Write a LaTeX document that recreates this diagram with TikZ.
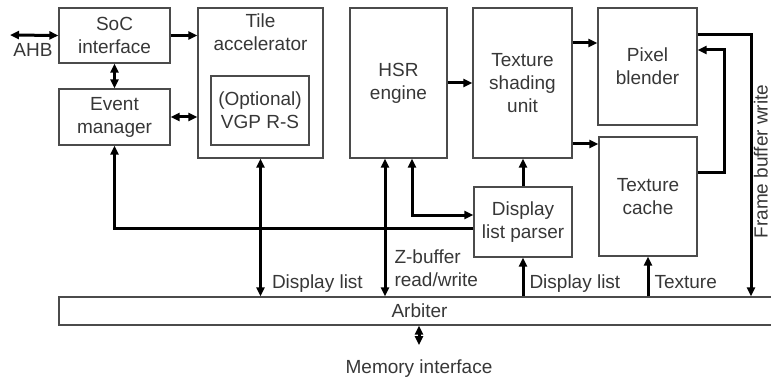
\documentclass[tikz,border=0pt]{standalone}
\usepackage{fontspec}
\setmainfont{Liberation Sans}
\usetikzlibrary{arrows.meta,calc}
\definecolor{TXT}{RGB}{55,55,55}
\definecolor{EDGE}{RGB}{75,75,75}

\begin{document}
\begin{tikzpicture}[x=1pt,y=-1pt,
    box/.style={draw=EDGE,line width=1.3pt,inner sep=0pt,align=center,text=TXT,
                font=\fontsize{19}{23}\selectfont},
    lbl/.style={inner sep=0pt,text=TXT,font=\fontsize{19}{23}\selectfont},
    >={Triangle[length=9pt,width=8pt]}]
  \useasboundingbox (0,0) rectangle (771,377);

  % blocks
  \node[box,minimum width=111pt,minimum height=55pt] (soc) at (114.5,35.5) {SoC\\interface};
  \node[box,minimum width=111pt,minimum height=56pt] (event) at (114.5,117) {Event\\manager};
  \node[box,minimum width=125pt,minimum height=150pt] (tile) at (260.5,83) {};
  \node[lbl,align=center,anchor=north,yshift=-6pt] (tiletext) at (tile.north) {Tile\\accelerator};
  \node[box,minimum width=98pt,minimum height=69pt] (vgp) at (260,110.5) {(Optional)\\VGP R-S};
  \node[box,minimum width=97pt,minimum height=150pt] (hsr) at (398.5,83) {HSR\\engine};
  \node[box,minimum width=99pt,minimum height=150pt] (tsu) at (522.5,83) {Texture\\shading\\unit};
  \node[box,minimum width=99pt,minimum height=117pt] (pix) at (647.5,66.5) {Pixel\\blender};
  \node[box,minimum width=98pt,minimum height=119pt] (tc) at (648,196.5) {Texture\\cache};
  \node[box,minimum width=98pt,minimum height=70pt] (dlp) at (523,222) {Display\\list parser};
  \node[box,minimum width=721pt,minimum height=28pt] (arb) at (419.5,311) {Arbiter};

  \node[lbl,anchor=base] (mem) at (419,373) {Memory interface};
  \node[lbl] (ahb) at (33,50) {AHB};
  \coordinate (ahbend) at (10,35);
  \node[lbl,rotate=90,anchor=base] (fbw) at (767.5,161.5) {Frame buffer write};

  \begin{scope}[every path/.append style={line width=3pt}]
    \draw[<->] (ahbend) -- (soc.west);
    \draw[->] (soc.east) -- (soc.east -| tile.west);
    \draw[<->] (soc.south) -- (event.north);
    \draw[<->] (event.east) -- (event.east -| tile.west);
    \draw[->] ($(dlp.west)+(0,6)$) -| (event.south);

    \draw[<->] (tile.south) -- (tile.south |- arb.north)
        node[lbl,anchor=base west,xshift=10pt,yshift=8pt] {Display list};
    \draw[<->] ($(hsr.south)+(-13.5,0)$) -- ($(hsr.south |- arb.north)+(-13.5,0)$)
        node[lbl,align=left,anchor=south west,xshift=8pt,yshift=7.7pt] {Z-buffer\\read/write};
    \draw[<->] ($(hsr.south)+(13.5,0)$) |- ($(dlp.west)+(0,-7)$);
    \draw[->] (hsr.east) -- (tsu.west);

    \draw[->] ($(tsu.east |- pix.west)+(0,-23.5)$) -- ($(pix.west)+(0,-23.5)$);
    \draw[->] ($(tsu.east |- tc.west)+(0,-52.5)$) -- ($(tc.west)+(0,-52.5)$);
    \draw[->] (dlp.north) -- (dlp.north |- tsu.south);

    \draw[->] (dlp.south |- arb.north)
        node[lbl,anchor=base west,xshift=5pt,yshift=8pt] {Display list} -- (dlp.south);
    \draw[->] (tc.south |- arb.north)
        node[lbl,anchor=base west,xshift=5pt,yshift=8pt] {Texture} -- (tc.south);

    \draw[->] ($(tc.east)+(0,-24.5)$) -- ++(27,0) |- ($(pix.east)+(0,-16.5)$);
    \draw[->] ($(pix.east)+(0,-31.5)$) -| ($(arb.north)+(331.5,0)$);

    \draw[<->,shorten >=14pt] (arb.south -| mem) -- (mem.north);
  \end{scope}
\end{tikzpicture}
\end{document}
